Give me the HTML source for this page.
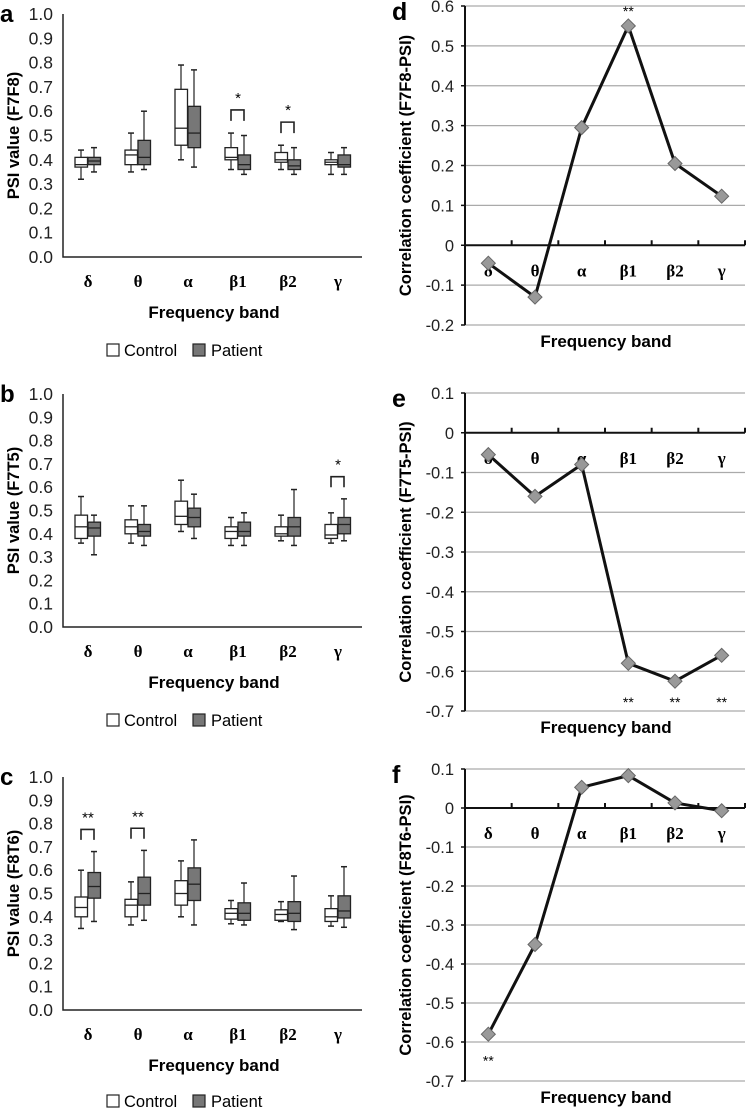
<!DOCTYPE html>
<html><head><meta charset="utf-8"><style>
html,body{margin:0;padding:0;background:#fff;}
svg{display:block;}
text{font-family:"Liberation Sans",Arial,sans-serif;}
.cat{font-family:"Liberation Serif",serif;font-weight:bold;font-size:17px;}
</style></head><body>
<svg id="fig" width="749" height="1109" viewBox="0 0 749 1109" xmlns="http://www.w3.org/2000/svg"></svg>
<script>
const categories = ["δ","θ","α","β1","β2","γ"];
// Box plot data: [whiskerLow, q1, median, q3, whiskerHigh]
const aControl = [[0.32,0.37,0.38,0.41,0.44],[0.35,0.38,0.42,0.44,0.51],[0.40,0.46,0.53,0.69,0.79],[0.36,0.40,0.41,0.45,0.51],[0.36,0.39,0.40,0.43,0.46],[0.34,0.38,0.39,0.40,0.43]];
const aPatient = [[0.35,0.38,0.395,0.41,0.45],[0.36,0.38,0.41,0.48,0.60],[0.37,0.45,0.51,0.62,0.77],[0.34,0.36,0.38,0.42,0.50],[0.34,0.36,0.375,0.40,0.45],[0.34,0.37,0.38,0.42,0.45]];
const bControl = [[0.36,0.38,0.43,0.48,0.56],[0.36,0.40,0.43,0.46,0.52],[0.41,0.44,0.475,0.54,0.63],[0.35,0.38,0.41,0.43,0.47],[0.37,0.39,0.40,0.43,0.48],[0.36,0.38,0.395,0.44,0.49]];
const bPatient = [[0.31,0.39,0.425,0.45,0.48],[0.35,0.39,0.41,0.44,0.52],[0.38,0.43,0.47,0.51,0.57],[0.35,0.39,0.41,0.45,0.49],[0.35,0.39,0.43,0.47,0.59],[0.37,0.40,0.44,0.47,0.55]];
const cControl = [[0.35,0.40,0.44,0.485,0.60],[0.365,0.40,0.45,0.475,0.55],[0.40,0.45,0.50,0.555,0.64],[0.37,0.39,0.415,0.435,0.47],[0.38,0.385,0.41,0.43,0.465],[0.36,0.38,0.40,0.435,0.49]];
const cPatient = [[0.38,0.48,0.53,0.59,0.68],[0.385,0.45,0.50,0.57,0.685],[0.365,0.47,0.54,0.61,0.73],[0.365,0.385,0.415,0.46,0.545],[0.345,0.38,0.415,0.465,0.575],[0.355,0.395,0.425,0.49,0.615]];
const aSig = [null,null,null,"*","*",null];
const bSig = [null,null,null,null,null,"*"];
const cSig = ["**","**",null,null,null,null];
const psiTicks = ["0.0","0.1","0.2","0.3","0.4","0.5","0.6","0.7","0.8","0.9","1.0"];
// Correlation data
const dValues = [-0.045,-0.13,0.295,0.55,0.205,0.123];
const eValues = [-0.055,-0.16,-0.08,-0.58,-0.625,-0.56];
const fValues = [-0.58,-0.35,0.053,0.083,0.013,-0.007];
const dSig = [null,null,null,"**",null,null];
const eSig = [null,null,null,"**","**","**"];
const fSig = ["**",null,null,null,null,null];
const dTicks = [-0.2,-0.1,0,0.1,0.2,0.3,0.4,0.5,0.6];
const eTicks = [-0.7,-0.6,-0.5,-0.4,-0.3,-0.2,-0.1,0,0.1];
const fTicks = [-0.7,-0.6,-0.5,-0.4,-0.3,-0.2,-0.1,0,0.1];

const svg = document.getElementById('fig');
const NS = "http://www.w3.org/2000/svg";
function mk(tag, attrs, parent, txt){
  const e = document.createElementNS(NS, tag);
  for (const k in attrs) e.setAttribute(k, attrs[k]);
  if (txt !== undefined) e.textContent = txt;
  (parent || svg).appendChild(e);
  return e;
}

function boxPanel(letter, yTitle, ctrl, pat, sig, yTop, yBot, catY, xlabY, legY){
  const g = mk('g', {});
  
  
  const x0 = 63, x1 = 362;
  const yS = v => yBot - (yBot - yTop) * v;
  const step = 50;
  const xC = i => x0 + step * (i + 0.5);
  const lt = mk('text', {x:0, y:yTop+8, 'font-size':24, 'font-weight':'bold'}, g, letter);
  
  
  psiTicks.forEach((t, i) => {
    const tt = mk('text', {x:53, y:yS(i/10)+6, 'font-size':17.5, 'text-anchor':'end', fill:'#222'}, g, t);
    
    
  });
  const ax = mk('path', {d:`M${x0} ${yTop}V${yBot}H${x1}`, stroke:'#222', 'stroke-width':1.5, fill:'none'}, g);
  
  
  const yt = mk('text', {x:0, y:0, 'font-size':16.5, 'font-weight':'bold', 'text-anchor':'middle', transform:`translate(19 ${(yTop+yBot)/2}) rotate(-90)`}, g, yTitle);
  
  
  categories.forEach((c, i) => {
    const ct = mk('text', {x:xC(i), y:catY, 'text-anchor':'middle', class:'cat'}, g, c);
    
    
    [[ctrl[i], xC(i)-13, '#fff'], [pat[i], xC(i), '#777']].forEach(([d, bx, fill], k) => {
      const cx = bx + 6;
      const bg = mk('g', {}, g);
      
      
      mk('line', {x1:cx, x2:cx, y1:yS(d[0]), y2:yS(d[4]), stroke:'#222', 'stroke-width':1.2}, bg);
      mk('line', {x1:cx-3, x2:cx+3, y1:yS(d[0]), y2:yS(d[0]), stroke:'#222', 'stroke-width':1.5}, bg);
      mk('line', {x1:cx-3, x2:cx+3, y1:yS(d[4]), y2:yS(d[4]), stroke:'#222', 'stroke-width':1.5}, bg);
      mk('rect', {x:bx, y:yS(d[3]), width:12.5, height:yS(d[1])-yS(d[3]), fill:fill, stroke:'#222', 'stroke-width':1.3}, bg);
      mk('line', {x1:bx, x2:bx+12.5, y1:yS(d[2]), y2:yS(d[2]), stroke:'#222', 'stroke-width':1.3}, bg);
    });
    if (sig[i]) {
      const hi = Math.max(ctrl[i][4], pat[i][4]);
      const yb = yS(hi + 0.05), ytp = yS(hi + 0.095);
      const br = mk('path', {d:`M${xC(i)-7} ${yb}V${ytp}H${xC(i)+6}V${yb}`, stroke:'#222', 'stroke-width':1.6, fill:'none'}, g);
      
      
      const st = mk('text', {x:xC(i), y:ytp-7, 'font-size':15, 'text-anchor':'middle'}, g, sig[i]);
      
      
    }
  });
  const xl = mk('text', {x:214, y:xlabY, 'font-size':17, 'font-weight':'bold', 'text-anchor':'middle'}, g, 'Frequency band');
  
  
  const lg = mk('g', {}, g);
  
  
  const l1 = mk('g', {}, lg);
  
  
  mk('rect', {x:107, y:legY-6, width:12, height:12, fill:'#fff', stroke:'#222', 'stroke-width':1.2}, l1);
  mk('text', {x:124, y:legY+6, 'font-size':16.5}, l1, 'Control');
  const l2 = mk('g', {}, lg);
  
  
  mk('rect', {x:193, y:legY-6, width:12, height:12, fill:'#777', stroke:'#222', 'stroke-width':1.2}, l2);
  mk('text', {x:211, y:legY+6, 'font-size':16.5}, l2, 'Patient');
}

function linePanel(letter, yTitle, vals, sig, ticks, yTop, yBot, sigBelow, sigLevel){
  const g = mk('g', {});
  
  
  const x0 = 465, x1 = 745;
  const vMin = ticks[0], vMax = ticks[ticks.length-1];
  const yS = v => yBot - (yBot - yTop) * (v - vMin) / (vMax - vMin);
  const step = (x1 - x0) / categories.length;
  const xC = i => x0 + step * (i + 0.5);
  const lt = mk('text', {x:392, y:yTop+14, 'font-size':25, 'font-weight':'bold'}, g, letter);
  
  
  ticks.forEach(t => {
    const y = yS(t);
    if (Math.abs(t) > 1e-9) {
      const gl = mk('line', {x1:x0, x2:x1, y1:y, y2:y, stroke:'#aaa', 'stroke-width':1.2}, g);
      
      
    }
    mk('line', {x1:x0-4, x2:x0, y1:y, y2:y, stroke:'#111', 'stroke-width':1.5}, g);
    const tt = mk('text', {x:454, y:y+6, 'font-size':16.5, 'text-anchor':'end', fill:'#222'}, g, (Math.abs(t)<1e-9) ? '0' : String(t));
    
    
  });
  const ya = mk('line', {x1:x0, x2:x0, y1:yTop, y2:yBot, stroke:'#111', 'stroke-width':2}, g);
  
  
  const y0 = yS(0);
  const xa = mk('line', {x1:x0, x2:x1, y1:y0, y2:y0, stroke:'#111', 'stroke-width':2}, g);
  
  
  for (let k = 1; k <= categories.length; k++) {
    mk('line', {x1:x0+step*k, x2:x0+step*k, y1:y0-5, y2:y0, stroke:'#111', 'stroke-width':2}, g);
  }
  categories.forEach((c, i) => {
    const ct = mk('text', {x:xC(i), y:y0+31, 'text-anchor':'middle', class:'cat'}, g, c);
    
    
  });
  const yt = mk('text', {x:0, y:0, 'font-size':16.5, 'font-weight':'bold', 'text-anchor':'middle', transform:`translate(411 ${(yTop+yBot)/2}) rotate(-90)`}, g, yTitle);
  
  
  const pts = vals.map((v, i) => `${xC(i)},${yS(v)}`).join(' ');
  const pl = mk('polyline', {points:pts, fill:'none', stroke:'#111', 'stroke-width':3, 'stroke-linejoin':'round'}, g);
  
  
  vals.forEach((v, i) => {
    const x = xC(i), y = yS(v);
    const p = mk('polygon', {points:`${x},${y-7} ${x+7},${y} ${x},${y+7} ${x-7},${y}`, fill:'#999', stroke:'#666', 'stroke-width':1}, g);
    
    
    if (sig[i]) {
      const sy = sigLevel !== undefined ? yS(sigLevel) + 8 : (sigBelow ? yS(v) + 28 : yS(v) - 10);
      const st = mk('text', {x:x, y:sy, 'font-size':14, 'text-anchor':'middle'}, g, sig[i]);
      
      
    }
  });
  const xl = mk('text', {x:606, y:yBot+22, 'font-size':17, 'font-weight':'bold', 'text-anchor':'middle'}, g, 'Frequency band');
  
  
}

boxPanel('a', 'PSI value (F7F8)', aControl, aPatient, aSig, 14, 257, 287, 318, 350);
boxPanel('b', 'PSI value (F7T5)', bControl, bPatient, bSig, 394, 627, 657, 688, 720);
boxPanel('c', 'PSI value (F8T6)', cControl, cPatient, cSig, 777, 1010, 1040, 1071, 1101);
linePanel('d', 'Correlation coefficient (F7F8-PSI)', dValues, dSig, dTicks, 6, 325, false);
linePanel('e', 'Correlation coefficient (F7T5-PSI)', eValues, eSig, eTicks, 393, 711, true, -0.67);
linePanel('f', 'Correlation coefficient (F8T6-PSI)', fValues, fSig, fTicks, 769, 1081, true, -0.64);
</script>
</body></html>
